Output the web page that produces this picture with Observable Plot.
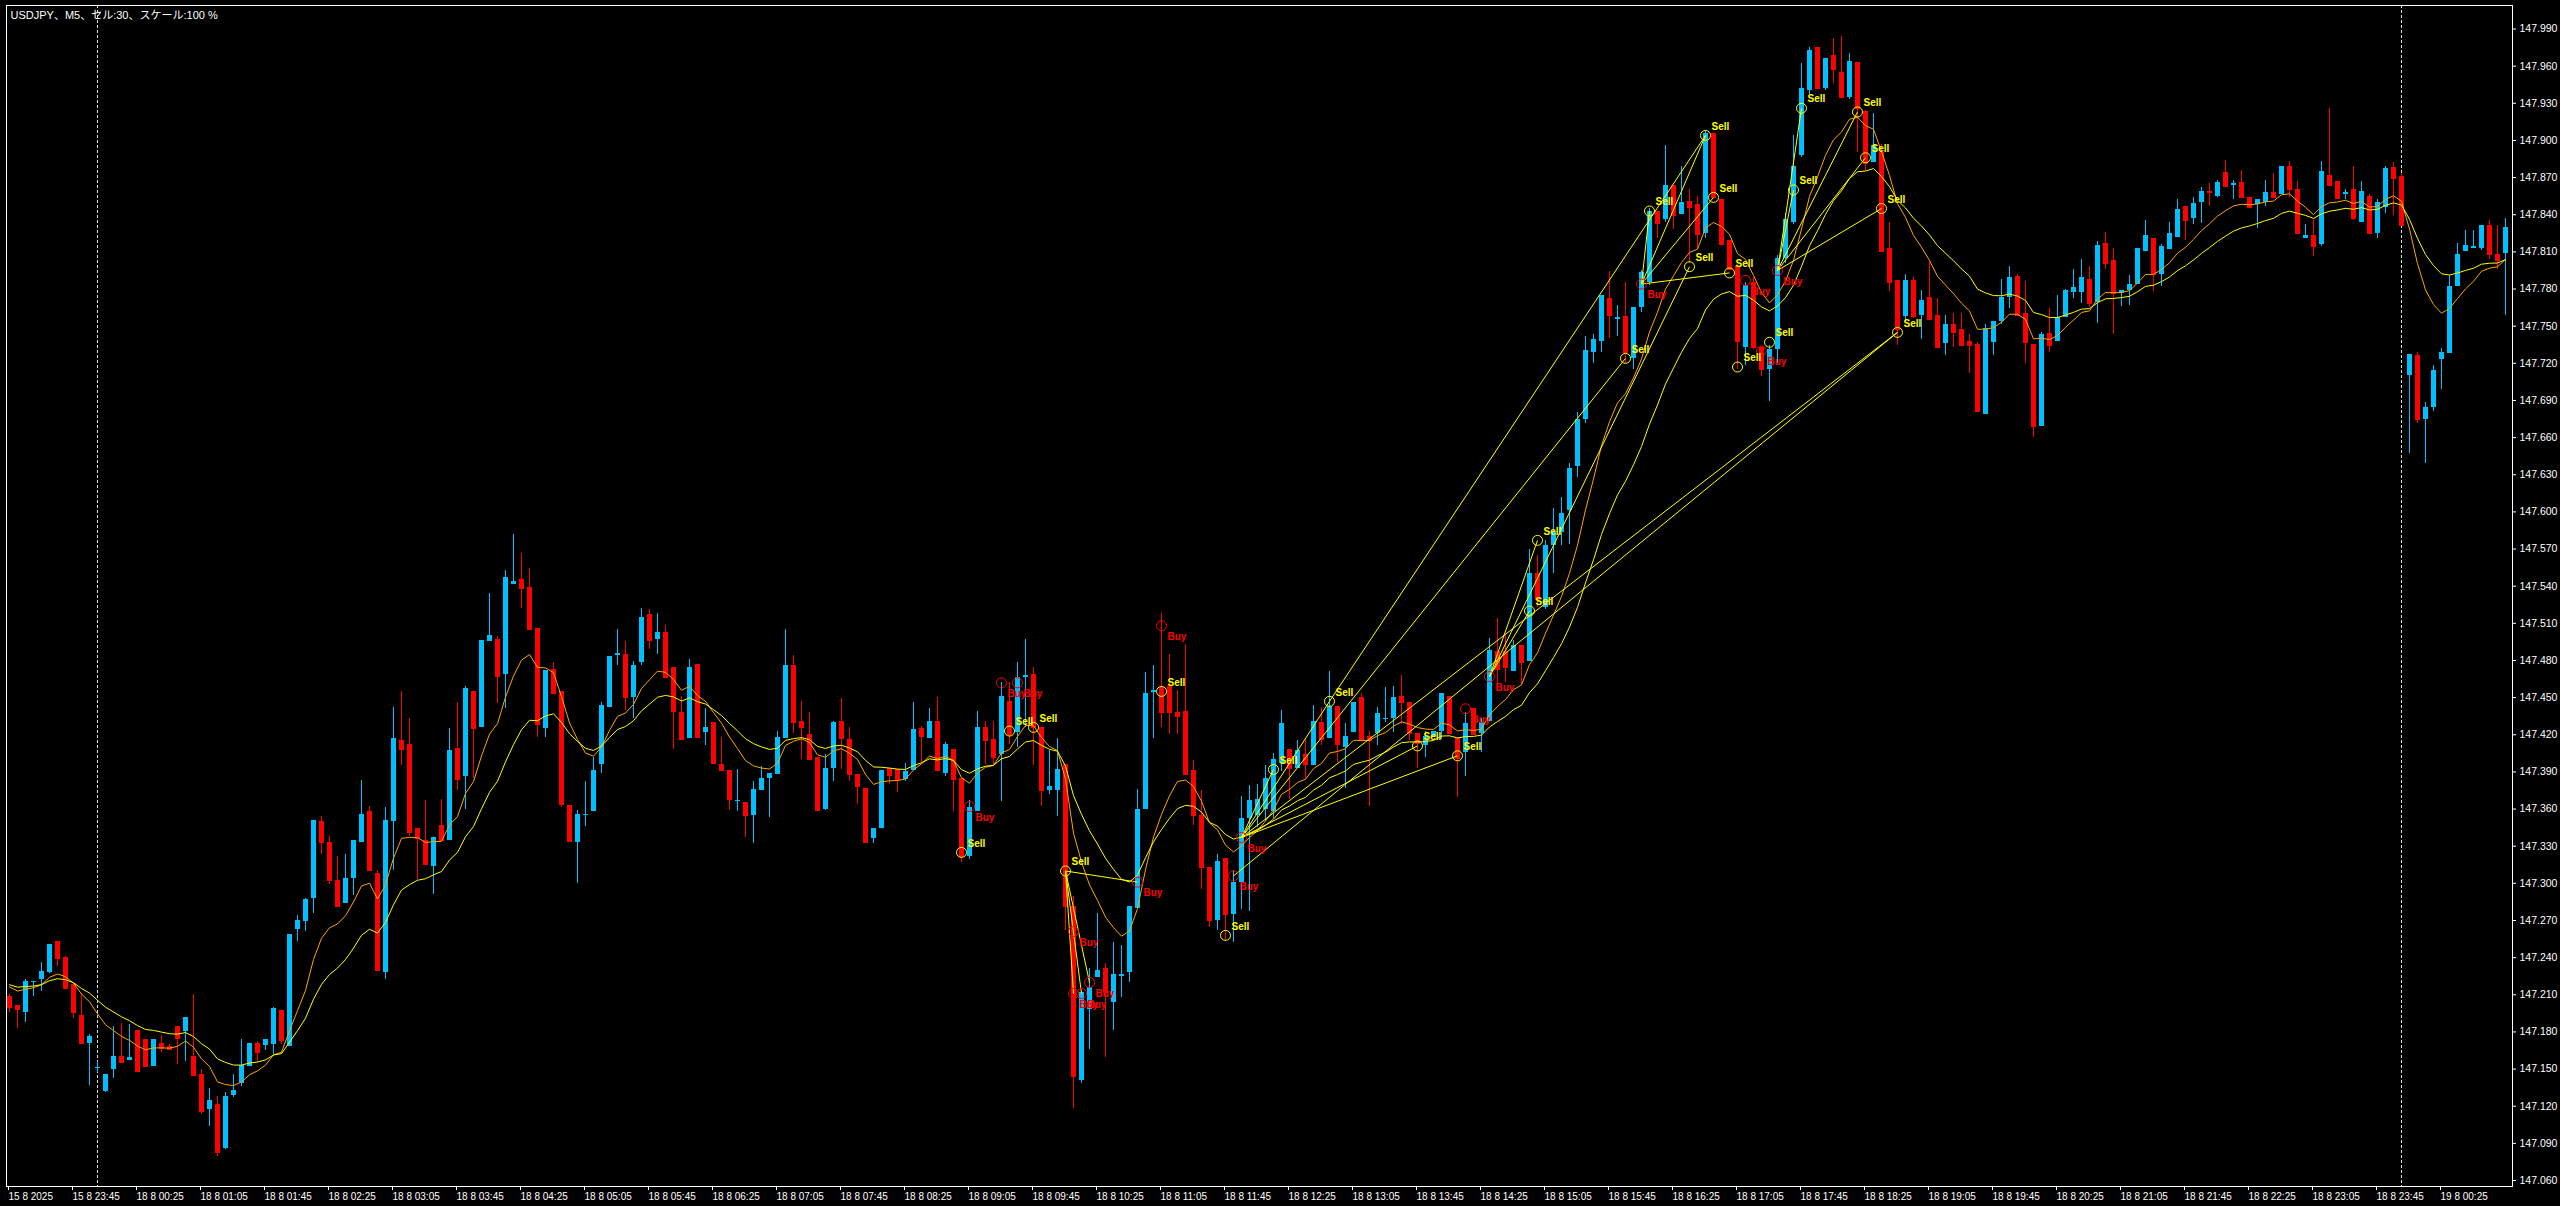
<!DOCTYPE html>
<html><head><meta charset="utf-8">
<script src="https://cdn.jsdelivr.net/npm/d3@7"></script>
<script src="https://cdn.jsdelivr.net/npm/@observablehq/plot@0.6"></script>
<style>html,body{margin:0;padding:0;background:#000;overflow:hidden}</style>
</head><body><div id="chart"></div>
<script>
const title = "USDJPY、M5、セル:30、スケール:100 %";

const open = [147.209,147.201,147.196,147.220,147.222,147.228,147.253,147.240,147.218,147.193,
147.171,147.151,147.132,147.150,147.160,147.157,147.181,147.174,147.152,147.171,
147.168,147.184,147.180,147.160,147.146,147.117,147.121,147.086,147.129,147.138,
147.152,147.171,147.169,147.170,147.197,147.168,147.263,147.269,147.288,147.350,
147.333,147.302,147.284,147.304,147.333,147.358,147.308,147.228,147.350,147.415,
147.412,147.344,147.335,147.314,147.347,147.335,147.409,147.386,147.455,147.426,
147.495,147.497,147.469,147.541,147.545,147.539,147.506,147.425,147.473,147.455,
147.363,147.333,147.355,147.358,147.396,147.442,147.484,147.485,147.450,147.478,
147.517,147.497,147.503,147.474,147.438,147.417,147.477,147.422,147.430,147.396,
147.391,147.366,147.365,147.355,147.375,147.385,147.388,147.417,147.476,147.431,
147.420,147.402,147.360,147.393,147.431,147.416,147.388,147.377,147.336,147.344,
147.393,147.392,147.384,147.391,147.425,147.417,147.431,147.389,147.408,147.385,
147.322,147.358,147.426,147.416,147.404,147.447,147.422,147.466,147.469,147.426,
147.375,147.375,147.396,147.281,147.141,147.198,147.224,147.231,147.204,147.225,
147.228,147.280,147.360,147.454,147.458,147.459,147.438,147.439,147.391,147.355,
147.313,147.270,147.320,147.275,147.301,147.352,147.355,147.360,147.358,147.397,
147.408,147.393,147.404,147.395,147.430,147.417,147.443,147.410,147.422,147.450,
147.419,147.421,147.432,147.433,147.451,147.446,147.421,147.411,147.419,147.423,
147.451,147.417,147.406,147.441,147.421,147.431,147.487,147.487,147.471,147.492,
147.479,147.550,147.523,147.573,147.583,147.601,147.637,147.675,147.729,147.738,
147.772,147.755,147.758,147.724,147.765,147.785,147.843,147.836,147.864,147.840,
147.851,147.848,147.825,147.906,147.852,147.819,147.798,147.733,147.785,147.733,
147.715,147.731,147.805,147.834,147.888,147.940,147.975,147.942,147.969,147.955,
147.935,147.963,147.923,147.882,147.890,147.813,147.787,147.758,147.787,147.759,
147.773,147.759,147.736,147.751,147.747,147.738,147.735,147.679,147.737,147.754,
147.773,147.790,147.760,147.735,147.669,147.744,147.738,147.757,147.777,147.777,
147.788,147.769,147.817,147.803,147.776,147.779,147.784,147.810,147.821,147.792,
147.812,147.822,147.847,147.837,147.850,147.859,147.855,147.874,147.864,147.866,
147.854,147.848,147.850,147.858,147.856,147.879,147.860,147.821,147.823,147.816,
147.872,147.867,147.856,147.860,147.834,147.855,147.825,147.846,147.878,147.871,
147.710,147.726,147.675,147.684,147.723,147.728,147.782,147.810,147.813,147.813,
147.831,147.808,147.809];

const high = [147.210,147.201,147.222,147.221,147.236,147.251,147.253,147.241,147.218,147.211,
147.178,147.156,147.146,147.184,147.187,147.186,147.181,147.174,147.174,147.177,
147.170,147.184,147.192,147.210,147.150,147.134,147.128,147.131,147.146,147.174,
147.171,147.172,147.174,147.200,147.197,147.259,147.274,147.288,147.351,147.354,
147.338,147.322,147.323,147.335,147.383,147.362,147.310,147.361,147.442,147.455,
147.433,147.344,147.367,147.337,147.368,147.425,147.446,147.459,147.455,147.496,
147.534,147.499,147.553,147.582,147.566,147.554,147.506,147.472,147.478,147.455,
147.363,147.359,147.382,147.402,147.446,147.483,147.505,147.495,147.479,147.522,
147.521,147.518,147.508,147.474,147.451,147.481,147.477,147.441,147.430,147.418,
147.391,147.392,147.365,147.382,147.394,147.389,147.423,147.505,147.484,147.447,
147.438,147.402,147.404,147.431,147.449,147.426,147.388,147.377,147.344,147.391,
147.393,147.392,147.397,147.446,147.427,147.441,147.450,147.414,147.408,147.385,
147.367,147.439,147.431,147.431,147.462,147.462,147.478,147.497,147.474,147.426,
147.407,147.417,147.396,147.289,147.213,147.231,147.276,147.235,147.252,147.250,
147.281,147.376,147.470,147.476,147.518,147.485,147.456,147.493,147.399,147.375,
147.313,147.323,147.320,147.310,147.370,147.379,147.380,147.395,147.405,147.440,
147.408,147.415,147.416,147.444,147.442,147.471,147.443,147.429,147.446,147.453,
147.423,147.442,147.458,147.459,147.468,147.446,147.421,147.423,147.423,147.453,
147.451,147.417,147.438,147.441,147.433,147.498,147.514,147.500,147.496,147.492,
147.570,147.565,147.577,147.603,147.612,147.639,147.680,147.742,147.743,147.775,
147.794,147.767,147.785,147.765,147.795,147.845,147.843,147.896,147.864,147.879,
147.860,147.855,147.908,147.906,147.852,147.819,147.798,147.785,147.789,147.733,
147.734,147.807,147.841,147.904,147.962,147.975,147.975,147.966,147.982,147.984,
147.970,147.963,147.924,147.922,147.897,147.834,147.787,147.792,147.789,147.779,
147.802,147.772,147.759,147.760,147.760,147.743,147.737,147.751,147.754,147.788,
147.798,147.792,147.786,147.735,147.745,147.764,147.775,147.780,147.796,147.804,
147.798,147.818,147.826,147.813,147.779,147.791,147.813,147.835,147.821,147.816,
147.834,147.852,147.847,147.854,147.862,147.865,147.868,147.884,147.868,147.876,
147.854,147.852,147.868,147.873,147.879,147.883,147.867,147.832,147.835,147.883,
147.926,147.867,147.860,147.879,147.867,147.856,147.852,147.879,147.882,147.873,
147.727,147.729,147.688,147.718,147.732,147.791,147.817,147.827,147.827,147.831,
147.835,147.831,147.837];

const low = [147.196,147.183,147.188,147.209,147.213,147.227,147.233,147.214,147.191,147.170,
147.137,147.147,147.131,147.142,147.155,147.157,147.148,147.152,147.152,147.163,
147.166,147.154,147.156,147.145,147.113,147.104,147.079,147.085,147.127,147.136,
147.152,147.155,147.165,147.162,147.170,147.168,147.253,147.261,147.276,147.323,
147.299,147.281,147.284,147.290,147.333,147.310,147.230,147.222,147.310,147.395,
147.338,147.303,147.315,147.291,147.335,147.335,147.375,147.360,147.385,147.426,
147.495,147.445,147.441,147.541,147.522,147.505,147.418,147.418,147.453,147.361,
147.334,147.300,147.346,147.358,147.389,147.442,147.476,147.440,147.433,147.476,
147.489,147.485,147.466,147.408,147.416,147.417,147.418,147.411,147.397,147.391,
147.359,147.358,147.337,147.332,147.375,147.353,147.388,147.417,147.421,147.400,
147.400,147.359,147.359,147.382,147.392,147.382,147.364,147.333,147.332,147.344,
147.380,147.373,147.382,147.391,147.397,147.417,147.391,147.386,147.358,147.317,
147.319,147.358,147.396,147.396,147.366,147.412,147.410,147.426,147.395,147.362,
147.372,147.354,147.262,147.118,147.138,147.166,147.224,147.159,147.181,147.208,
147.220,147.280,147.360,147.417,147.426,147.420,147.420,147.388,147.347,147.295,
147.264,147.262,147.253,147.252,147.279,147.277,147.345,147.350,147.352,147.390,
147.368,147.393,147.384,147.395,147.411,147.417,147.398,147.377,147.422,147.415,
147.362,147.411,147.430,147.422,147.428,147.415,147.393,147.402,147.419,147.416,
147.421,147.369,147.386,147.420,147.406,147.431,147.460,147.462,147.471,147.460,
147.479,147.523,147.521,147.550,147.573,147.574,147.628,147.671,147.720,147.729,
147.740,147.742,147.720,147.715,147.761,147.783,147.821,147.834,147.828,147.840,
147.801,147.812,147.821,147.854,147.816,147.796,147.715,147.718,147.731,147.709,
147.689,147.720,147.801,147.832,147.886,147.937,147.942,147.940,147.946,147.935,
147.933,147.890,147.875,147.882,147.810,147.778,147.734,147.754,147.756,147.739,
147.755,147.733,147.726,147.733,147.734,147.712,147.680,147.679,147.726,147.751,
147.764,147.759,147.720,147.660,147.669,147.729,147.738,147.757,147.772,147.768,
147.765,147.752,147.796,147.743,147.766,147.767,147.784,147.810,147.778,147.782,
147.812,147.822,147.819,147.832,147.833,147.847,147.854,147.863,147.852,147.854,
147.845,147.829,147.847,147.854,147.856,147.854,147.825,147.821,147.806,147.814,
147.864,147.853,147.852,147.835,147.834,147.825,147.821,147.841,147.839,147.831,
147.647,147.671,147.639,147.681,147.699,147.728,147.782,147.810,147.813,147.811,
147.804,147.796,147.759];

const close = [147.200,147.198,147.221,147.221,147.229,147.251,147.239,147.215,147.196,147.171,
147.176,147.151,147.146,147.160,147.155,147.159,147.148,147.152,147.174,147.167,
147.166,147.175,147.192,147.145,147.116,147.125,147.083,147.128,147.133,147.153,
147.171,147.163,147.174,147.199,147.173,147.259,147.270,147.287,147.351,147.333,
147.302,147.281,147.304,147.335,147.356,147.310,147.230,147.351,147.417,147.408,
147.341,147.336,147.315,147.337,147.335,147.407,147.384,147.457,147.425,147.496,
147.500,147.467,147.547,147.544,147.538,147.505,147.428,147.472,147.453,147.364,
147.334,147.356,147.356,147.391,147.444,147.483,147.486,147.450,147.476,147.515,
147.496,147.503,147.466,147.439,147.416,147.474,147.418,147.426,147.397,147.391,
147.368,147.367,147.355,147.376,147.385,147.389,147.418,147.476,147.430,147.426,
147.400,147.359,147.393,147.430,147.417,147.388,147.378,147.333,147.344,147.391,
147.387,147.384,147.390,147.424,147.419,147.431,147.391,147.412,147.384,147.322,
147.361,147.426,147.415,147.402,147.451,147.420,147.466,147.468,147.426,147.375,
147.378,147.392,147.281,147.144,147.212,147.216,147.230,147.212,147.226,147.226,
147.281,147.360,147.453,147.456,147.438,147.438,147.435,147.388,147.355,147.313,
147.270,147.318,147.275,147.301,147.352,147.367,147.368,147.385,147.400,147.429,
147.393,147.407,147.396,147.431,147.416,147.443,147.412,147.419,147.446,147.415,
147.415,147.437,147.433,147.450,147.446,147.421,147.413,147.419,147.423,147.453,
147.421,147.401,147.429,147.420,147.430,147.488,147.473,147.474,147.492,147.478,
147.550,147.529,147.573,147.583,147.599,147.635,147.675,147.730,147.739,147.775,
147.759,147.757,147.729,147.765,147.793,147.843,147.833,147.864,147.839,147.850,
147.846,147.824,147.906,147.854,147.816,147.796,147.738,147.783,147.733,147.715,
147.731,147.805,147.836,147.879,147.942,147.973,147.942,147.966,147.957,147.935,
147.964,147.926,147.881,147.896,147.810,147.785,147.747,147.787,147.758,147.771,
147.755,147.733,147.751,147.745,147.734,147.734,147.681,147.748,147.754,147.773,
147.789,147.759,147.737,147.669,147.743,147.734,147.757,147.779,147.781,147.789,
147.768,147.815,147.801,147.776,147.779,147.784,147.813,147.823,147.792,147.814,
147.825,147.844,147.835,147.849,147.859,147.858,147.866,147.863,147.865,147.854,
147.846,147.852,147.858,147.854,147.879,147.860,147.825,147.823,147.814,147.875,
147.864,147.853,147.858,147.837,147.859,147.825,147.850,147.877,147.869,147.831,
147.727,147.675,147.684,147.714,147.729,147.782,147.808,147.815,147.814,147.831,
147.808,147.803,147.830];

const timeLabels = ["15 8 2025","15 8 23:45","18 8 00:25","18 8 01:05","18 8 01:45","18 8 02:25",
"18 8 03:05","18 8 03:45","18 8 04:25","18 8 05:05","18 8 05:45","18 8 06:25","18 8 07:05",
"18 8 07:45","18 8 08:25","18 8 09:05","18 8 09:45","18 8 10:25","18 8 11:05","18 8 11:45",
"18 8 12:25","18 8 13:05","18 8 13:45","18 8 14:25","18 8 15:05","18 8 15:45","18 8 16:25",
"18 8 17:05","18 8 17:45","18 8 18:25","18 8 19:05","18 8 19:45","18 8 20:25","18 8 21:05",
"18 8 21:45","18 8 22:25","18 8 23:05","18 8 23:45","19 8 00:25"];
const barsPerLabel = 8;

const priceTicks = [147.060,147.090,147.120,147.150,147.180,147.210,147.240,147.270,147.300,147.330,
147.360,147.390,147.420,147.450,147.480,147.510,147.540,147.570,147.600,147.630,147.660,147.690,
147.720,147.750,147.780,147.810,147.840,147.870,147.900,147.930,147.960,147.990];

const daySeparators = [11, 299];

const buyBar = [124,126,120,144,141,133,133,134,135,154,153,182,185,204,217,219,221];
const buyPrice = [147.462,147.462,147.362,147.508,147.301,147.261,147.211,147.211,147.220,147.337,147.306,147.441,147.467,147.784,147.787,147.730,147.795];
const sellBar = [125,128,119,144,132,152,158,165,176,181,191,190,202,205,212,213,210,215,216,220,223,224,231,232,234,236];
const sellPrice = [147.423,147.426,147.325,147.455,147.310,147.258,147.392,147.447,147.411,147.403,147.577,147.520,147.724,147.843,147.904,147.854,147.798,147.793,147.717,147.737,147.860,147.926,147.923,147.886,147.845,147.745];

const tradeFromBar = [132,132,132,132,154,154,154,154,153,154,154,185,185,185,204,204,204,204,165,221,221,221,221,221];
const tradeFromPrice = [147.310,147.310,147.310,147.310,147.337,147.337,147.337,147.337,147.306,147.337,147.337,147.467,147.467,147.467,147.784,147.784,147.784,147.784,147.447,147.795,147.795,147.795,147.795,147.795];
const tradeToBar = [141,133,134,135,158,165,176,181,236,236,202,190,191,210,205,215,212,213,212,223,224,231,232,234];
const tradeToPrice = [147.301,147.211,147.211,147.220,147.392,147.447,147.411,147.403,147.745,147.745,147.724,147.520,147.577,147.798,147.843,147.793,147.904,147.854,147.904,147.860,147.926,147.923,147.886,147.845];

const maFastPeriod = 10, maSlowPeriod = 20, maStart = 147.220;

// ---- build tables ----
const candles = open.map((o, i) => ({k: i, open: o, high: high[i], low: low[i], close: close[i]}));
const BULL = "#00BFFF", BEAR = "#FF0000";
const col = d => d.close >= d.open ? BULL : BEAR;
function ema(vals, n, seed) { const a = 2 / (n + 1); let e = seed; return vals.map(v => (e = e + a * (v - e))); }
const fast = ema(close, maFastPeriod, maStart), slow = ema(close, maSlowPeriod, maStart);
const maData = close.map((c, i) => ({k: i, fast: fast[i], slow: slow[i]}));
const buys = buyBar.map((k, i) => ({k, p: buyPrice[i]}));
const sells = sellBar.map((k, i) => ({k, p: sellPrice[i]}));
const trades = tradeFromBar.map((k, i) => ({k1: k, p1: tradeFromPrice[i], k2: tradeToBar[i], p2: tradeToPrice[i]}));
const tickBars = timeLabels.map((_, i) => i * barsPerLabel);
const labelOf = new Map(tickBars.map((k, i) => [k, timeLabels[i]]));
const half = 0.3125;

const chart = Plot.plot({
  width: 2560, height: 1206,
  marginLeft: 6, marginRight: 48, marginTop: 5, marginBottom: 20,
  style: {background: "#000", color: "#fff", fontFamily: "'Liberation Sans', Arial, sans-serif"},
  x: {type: "linear", domain: [-0.375, 312.875], axis: null},
  y: {type: "linear", domain: [147.05517, 148.00898], axis: null},
  marks: [
    Plot.ruleX(daySeparators, {stroke: "#e0e0e0", strokeDasharray: "3,2", strokeWidth: 1}),
    Plot.ruleX(candles, {x: "k", y1: "low", y2: "high", stroke: col, strokeWidth: 1, shapeRendering: "crispEdges"}),
    Plot.rect(candles, {x1: d => d.k - half, x2: d => d.k + half, y1: "open", y2: "close", fill: col, shapeRendering: "crispEdges"}),
    Plot.ruleY(candles, {y: "close", x1: d => d.k - half, x2: d => d.k + half, stroke: col, shapeRendering: "crispEdges"}),
    Plot.line(maData, {x: "k", y: "fast", stroke: "#FFA500", strokeWidth: 1}),
    Plot.line(maData, {x: "k", y: "slow", stroke: "#FFFF00", strokeWidth: 1}),
    Plot.link(trades, {x1: "k1", y1: "p1", x2: "k2", y2: "p2", stroke: "#FFFF00", strokeWidth: 1}),
    Plot.dot(sells, {x: "k", y: "p", r: 5, stroke: "#FFFF00", fill: "none", strokeWidth: 1}),
    Plot.dot(buys, {x: "k", y: "p", r: 5, stroke: "#FF0000", fill: "none", strokeWidth: 1}),
    Plot.text(sells, {x: "k", y: "p", text: () => "Sell", dx: 6, dy: -9, textAnchor: "start", fill: "#FFFF00", fontSize: 10, fontWeight: "bold"}),
    Plot.text(buys, {x: "k", y: "p", text: () => "Buy", dx: 6, dy: 11, textAnchor: "start", fill: "#FF0000", fontSize: 10, fontWeight: "bold"}),
    Plot.frame({stroke: "#fff"}),
    Plot.axisY(priceTicks, {anchor: "right", tickFormat: d => d.toFixed(3), tickSize: 3, tickPadding: 4, fontSize: 10.5, stroke: "#fff", fill: "#fff"}),
    Plot.axisX(tickBars, {anchor: "bottom", tickFormat: d => labelOf.get(d), tickSize: 4, tickPadding: 2, textAnchor: "start", dx: -1, fontSize: 10, stroke: "#fff", fill: "#fff", fontFamily: "'Liberation Sans Narrow', 'Arial Narrow', 'Liberation Sans', sans-serif"}),
    Plot.text([title], {frameAnchor: "top-left", dx: 4, dy: 10, textAnchor: "start", lineAnchor: "middle", fill: "#fff", fontSize: 11, fontFamily: "'Liberation Sans', 'Noto Sans CJK JP', sans-serif"})
  ]
});
document.getElementById("chart").appendChild(chart);
</script>
</body></html>
